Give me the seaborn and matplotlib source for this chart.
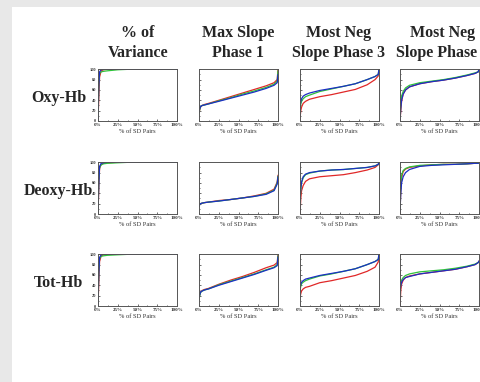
import matplotlib
matplotlib.use("Agg")
import matplotlib.pyplot as plt
import seaborn as sns
import pandas as pd
from matplotlib.patches import Rectangle
from matplotlib.ticker import MultipleLocator

# ---------------- data ----------------
pct = [0, 1, 2, 4, 7, 12, 25, 40, 55, 70, 85, 95, 99, 100]

col_titles = [("% of", "Variance"), ("Max Slope", "Phase 1"),
              ("Most Neg", "Slope Phase 3"), ("Most Neg", "Slope Phase 2")]
row_titles = ["Oxy-Hb", "Deoxy-Hb", "Tot-Hb"]
series_names = ["red", "green", "blue"]
x_ticklabels = ["0%", "25%", "50%", "75%", "100%"]
y_ticklabels = ["0", "20", "40", "60", "80", "100"]
x_label = "% of SD Pairs"

# Oxy-Hb
oxy_var = {
    "blue":  [0, 70, 95, 99, 100, 100, 100, 100, 100, 100, 100, 100, 100, 100],
    "red":   [0, 45, 85, 97, 99, 100, 100, 100, 100, 100, 100, 100, 100, 100],
    "green": [0, 75, 92, 95, 96, 97, 99, 100, 100, 100, 100, 100, 100, 100],
}
oxy_max1 = {
    "blue":  [18, 24, 28, 30, 31, 33, 38, 44, 50, 56, 63, 69, 74, 90],
    "red":   [16, 22, 27, 30, 32, 34, 40, 47, 54, 61, 68, 74, 80, 100],
    "green": [15, 23, 28, 30, 31, 33, 39, 45, 52, 58, 65, 71, 77, 97],
}
oxy_neg3 = {
    "blue":  [25, 38, 43, 48, 51, 54, 59, 63, 67, 72, 80, 86, 90, 100],
    "red":   [5, 20, 27, 34, 38, 42, 47, 51, 56, 61, 70, 80, 87, 100],
    "green": [20, 33, 38, 43, 47, 50, 57, 62, 67, 72, 80, 86, 90, 100],
}
oxy_neg2 = {
    "blue":  [0, 25, 40, 52, 60, 66, 72, 76, 79, 83, 88, 92, 95, 100],
    "red":   [0, 20, 38, 52, 60, 66, 72, 76, 79, 83, 88, 92, 95, 100],
    "green": [5, 35, 48, 57, 64, 69, 74, 77, 80, 84, 89, 93, 95, 100],
}
# Deoxy-Hb
deoxy_var = {
    "blue":  [0, 60, 92, 98, 99, 100, 100, 100, 100, 100, 100, 100, 100, 100],
    "red":   [0, 50, 88, 96, 98, 99, 100, 100, 100, 100, 100, 100, 100, 100],
    "green": [0, 70, 90, 95, 97, 98, 99, 100, 100, 100, 100, 100, 100, 100],
}
deoxy_max1 = {
    "blue":  [14, 19, 20, 21, 22, 23, 25, 28, 31, 34, 38, 45, 58, 72],
    "red":   [15, 19, 20, 21, 22, 23, 26, 28, 31, 35, 40, 48, 62, 75],
    "green": [14, 19, 20, 21, 22, 23, 25, 28, 31, 34, 39, 46, 60, 73],
}
deoxy_neg3 = {
    "blue":  [28, 50, 62, 72, 77, 80, 83, 85, 86, 88, 90, 93, 96, 100],
    "red":   [0, 30, 45, 55, 63, 68, 72, 74, 76, 80, 85, 90, 95, 98],
    "green": [25, 48, 60, 70, 76, 79, 83, 85, 86, 88, 90, 93, 96, 100],
}
deoxy_neg2 = {
    "blue":  [5, 40, 60, 72, 80, 86, 92, 94, 95, 96, 97, 98, 98, 99],
    "red":   [0, 50, 70, 82, 87, 90, 93, 95, 96, 96, 97, 98, 98, 99],
    "green": [10, 60, 75, 84, 88, 91, 94, 95, 96, 96, 97, 98, 98, 99],
}
# Tot-Hb
tot_var = {
    "blue":  [0, 65, 94, 99, 100, 100, 100, 100, 100, 100, 100, 100, 100, 100],
    "red":   [0, 45, 86, 97, 99, 100, 100, 100, 100, 100, 100, 100, 100, 100],
    "green": [0, 72, 92, 96, 97, 98, 99, 100, 100, 100, 100, 100, 100, 100],
}
tot_max1 = {
    "blue":  [15, 22, 27, 29, 31, 33, 40, 47, 54, 61, 69, 74, 78, 95],
    "red":   [14, 22, 27, 30, 32, 34, 42, 50, 57, 65, 74, 79, 84, 100],
    "green": [12, 21, 26, 29, 31, 33, 41, 48, 55, 62, 70, 75, 80, 97],
}
tot_neg3 = {
    "blue":  [35, 42, 46, 49, 52, 54, 59, 63, 67, 72, 80, 86, 90, 100],
    "red":   [16, 24, 29, 33, 36, 38, 45, 49, 54, 59, 67, 75, 85, 100],
    "green": [30, 38, 43, 46, 49, 52, 58, 62, 67, 72, 80, 86, 90, 100],
}
tot_neg2 = {
    "blue":  [27, 40, 46, 51, 55, 57, 62, 65, 68, 71, 76, 80, 84, 87],
    "red":   [0, 30, 42, 50, 55, 58, 62, 65, 68, 71, 76, 80, 84, 87],
    "green": [30, 44, 50, 55, 59, 62, 66, 68, 70, 73, 77, 81, 84, 86],
}

panels = [
    [oxy_var, oxy_max1, oxy_neg3, oxy_neg2],
    [deoxy_var, deoxy_max1, deoxy_neg3, deoxy_neg2],
    [tot_var, tot_max1, tot_neg3, tot_neg2],
]

palette = {"blue": "#1c2fc4", "red": "#e02828", "green": "#2ec23a"}

# ---------------- figure ----------------
sns.set_style("white")
plt.rcParams["font.family"] = ["Liberation Serif", "DejaVu Serif"]

W, H = 481, 382
fig = plt.figure(figsize=(W / 100, H / 100), dpi=100)
fig.patches.append(Rectangle((0, 0), 1, 1, transform=fig.transFigure,
                             facecolor="#e8e8e8", edgecolor="none", zorder=-10))
fig.patches.append(Rectangle((12 / W, 0), 1, 1 - 7 / H, transform=fig.transFigure,
                             facecolor="white", edgecolor="none", zorder=-9))

lefts = [98, 199, 300, 400]
tops = [69, 162, 254]
aw, ah = 79, 52

for r, top in enumerate(tops):
    for c, left in enumerate(lefts):
        ax = fig.add_axes([left / W, 1 - (top + ah) / H, aw / W, ah / H])
        ax.set_facecolor("white")
        d = panels[r][c]
        df = pd.DataFrame({
            "pct": pct * 3,
            "value": d["red"] + d["green"] + d["blue"],
            "series": ["red"] * len(pct) + ["green"] * len(pct) + ["blue"] * len(pct),
        })
        sns.lineplot(data=df, x="pct", y="value", hue="series", hue_order=series_names,
                     palette=palette, legend=False, ax=ax, linewidth=0.9)
        ax.set_xlim(0, 100)
        ax.set_ylim(0, 100.5)
        ax.set_xticks([0, 25, 50, 75, 100])
        ax.set_xticklabels(x_ticklabels, fontsize=3.6, fontweight="bold")
        ax.set_yticks([0, 20, 40, 60, 80, 100])
        if c == 0:
            ax.set_yticklabels(y_ticklabels, fontsize=3.2, fontweight="bold")
        else:
            ax.set_yticklabels([])
        ax.xaxis.set_minor_locator(MultipleLocator(12.5))
        ax.yaxis.set_minor_locator(MultipleLocator(10))
        ax.tick_params(which="both", direction="in", length=1.6, width=0.5,
                       pad=1.2, colors="#333333", bottom=True, left=True)
        ax.tick_params(which="minor", length=1.0)
        ax.set_xlabel(x_label, fontsize=4.6, labelpad=1.5, color="#333333")
        ax.set_ylabel("")
        for s in ax.spines.values():
            s.set_color("#555555")
            s.set_linewidth(0.7)

# column titles
col_centers = [138, 238.5, 339, 443]
for cx, (l1, l2) in zip(col_centers, col_titles):
    fig.text(cx / W, 1 - 33 / H, l1, ha="center", va="center",
             fontsize=11.5, fontweight="bold")
    fig.text(cx / W, 1 - 53 / H, l2, ha="center", va="center",
             fontsize=11.5, fontweight="bold")

# row titles
for top, name in zip(tops, row_titles):
    fig.text(58.5 / W, 1 - (top + ah / 2 + 3) / H, name, ha="center", va="center",
             fontsize=11.5, fontweight="bold")

fig.savefig("out.png", dpi=100)
